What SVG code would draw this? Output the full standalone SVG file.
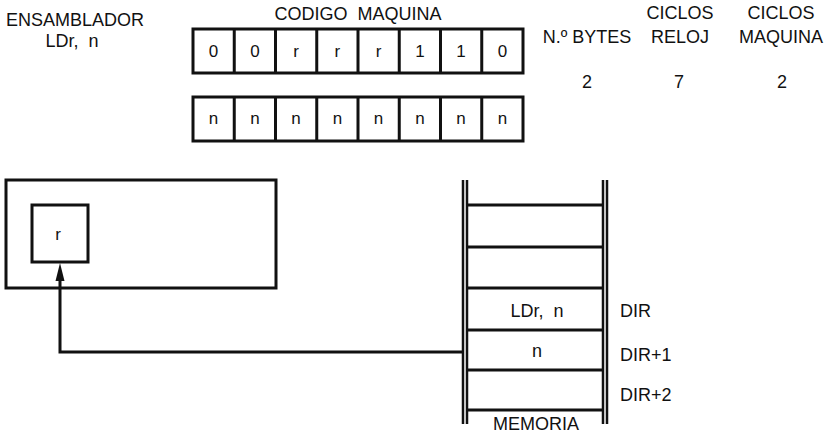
<svg xmlns="http://www.w3.org/2000/svg" width="831" height="433" viewBox="0 0 831 433">
<style>
text{font-family:"Liberation Sans",Arial,sans-serif;fill:#111;font-size:18px;white-space:pre}
.c{text-anchor:middle}
.cell{text-anchor:middle;font-size:17px}
.b{fill:#fff;stroke:#111;stroke-width:3}
.ln{stroke:#111;stroke-width:3;fill:none}
.ln2{stroke:#111;stroke-width:2.5;fill:none}
.ah{fill:#111}
</style>
<rect width="831" height="433" fill="#fff"/>
<g id="header">
<text class="c" x="75" y="26">ENSAMBLADOR</text>
<text class="c" x="72" y="47" xml:space="preserve">LDr,  n</text>
<text class="c" x="358" y="20" xml:space="preserve">CODIGO  MAQUINA</text>
<text class="c" x="587" y="43">N.º BYTES</text>
<text class="c" x="680" y="19">CICLOS</text>
<text class="c" x="680" y="43">RELOJ</text>
<text class="c" x="781" y="19">CICLOS</text>
<text class="c" x="781" y="43">MAQUINA</text>
<text class="c" x="587" y="88">2</text>
<text class="c" x="679" y="88">7</text>
<text class="c" x="782" y="88">2</text>
</g>
<g id="opcode">
<rect class="b" x="193" y="29" width="330" height="44"/>
<path class="ln" d="M234.25,29V73M275.5,29V73M316.75,29V73M358,29V73M399.25,29V73M440.5,29V73M481.75,29V73"/>
<text class="cell" x="213.6" y="57">0</text>
<text class="cell" x="254.9" y="57">0</text>
<text class="cell" x="296.1" y="57">r</text>
<text class="cell" x="337.4" y="57">r</text>
<text class="cell" x="378.6" y="57">r</text>
<text class="cell" x="419.9" y="57">1</text>
<text class="cell" x="461.1" y="57">1</text>
<text class="cell" x="502.4" y="57">0</text>
</g>
<g id="operand">
<rect class="b" x="193" y="97" width="330" height="44"/>
<path class="ln" d="M234.25,97V141M275.5,97V141M316.75,97V141M358,97V141M399.25,97V141M440.5,97V141M481.75,97V141"/>
<text class="cell" x="213.6" y="124">n</text>
<text class="cell" x="254.9" y="124">n</text>
<text class="cell" x="296.1" y="124">n</text>
<text class="cell" x="337.4" y="124">n</text>
<text class="cell" x="378.6" y="124">n</text>
<text class="cell" x="419.9" y="124">n</text>
<text class="cell" x="461.1" y="124">n</text>
<text class="cell" x="502.4" y="124">n</text>
</g>
<g id="cpu">
<rect class="b" x="6" y="180" width="270" height="108"/>
</g>
<g id="register">
<rect class="b" x="32" y="205" width="56" height="57"/>
<text class="cell" x="58" y="240">r</text>
</g>
<g id="memoria">
<path class="ln2" d="M463,180V424M467,180V424M603,180V424M607,180V424"/>
<path class="ln" d="M467,205H603M467,247H603M467,288H603M467,330H603M467,370H603M467,410H603"/>
<text class="c" x="537" y="317" xml:space="preserve">LDr,  n</text>
<text class="c" x="537" y="357">n</text>
<text x="620" y="317">DIR</text>
<text x="620" y="361">DIR+1</text>
<text x="620" y="401">DIR+2</text>
<text class="c" x="536" y="430">MEMORIA</text>
</g>
<g id="connectors">
<path class="ln" d="M463,352H60V278"/>
<polygon class="ah" points="60,263 55.5,281 64.5,281"/>
</g>
</svg>
